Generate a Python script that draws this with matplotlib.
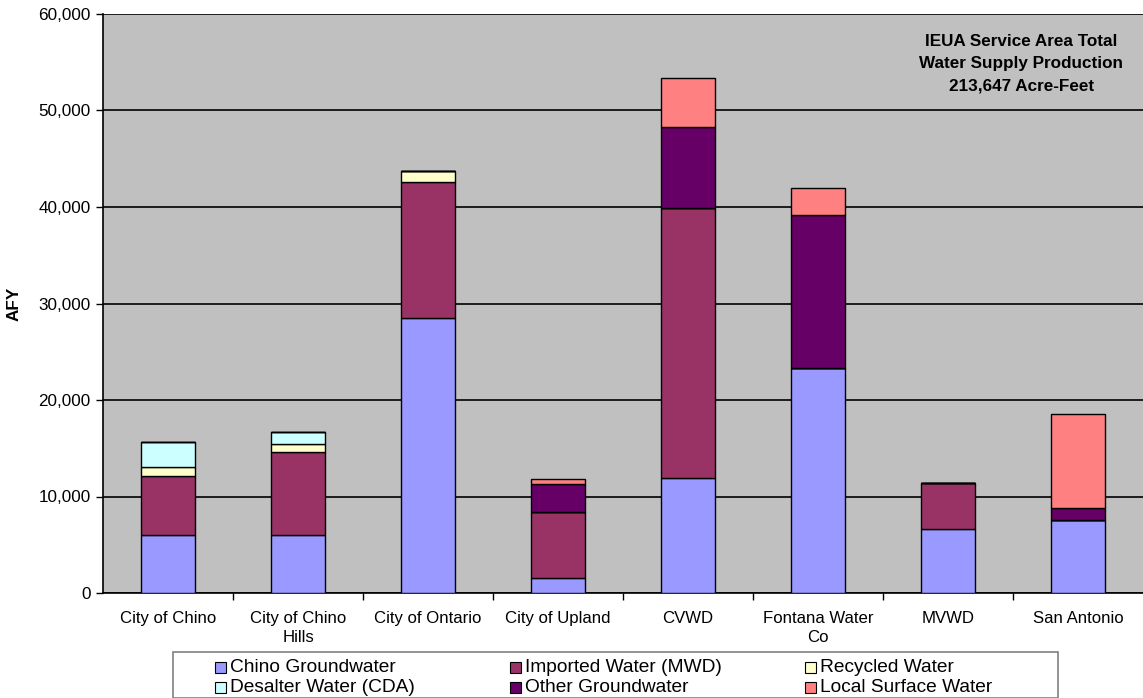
import matplotlib
matplotlib.use("Agg")
import matplotlib.pyplot as plt
from matplotlib.patches import Rectangle
import numpy as np

plt.rcParams['font.family'] = ['Liberation Sans', 'DejaVu Sans']

categories = ["City of Chino", "City of Chino\nHills", "City of Ontario", "City of Upland",
              "CVWD", "Fontana Water\nCo", "MVWD", "San Antonio"]
chino_gw = [6000, 6000, 28530, 1590, 11920, 23350, 6630, 7560]
imported = [6100, 8580, 14030, 6840, 28010, 0, 4740, 0]
recycled = [970, 830, 1200, 0, 0, 0, 0, 0]
desalter = [2590, 1240, 0, 0, 0, 0, 0, 0]
other_gw = [0, 0, 0, 2870, 8330, 15820, 0, 1220]
local_sw = [0, 0, 0, 510, 5140, 2770, 0, 9740]

series_names = ["Chino Groundwater", "Imported Water (MWD)", "Recycled Water",
                "Desalter Water (CDA)", "Other Groundwater", "Local Surface Water"]
series_values = [chino_gw, imported, recycled, desalter, other_gw, local_sw]
series_colors = ["#9999FF", "#993366", "#FFFFCC", "#CCFFFF", "#660066", "#FF8080"]

W, H = 1143, 698
fig = plt.figure(figsize=(W / 100, H / 100), dpi=100)
ax = fig.add_axes([103 / W, 1 - 593 / H, 1 - 103 / W, (593 - 14) / H])
ax.set_facecolor("#C0C0C0")

x = np.arange(len(categories))
bottom = np.zeros(len(categories))
for name, vals, col in zip(series_names, series_values, series_colors):
    vals = np.array(vals, dtype=float)
    ax.bar(x, vals, 0.41, bottom=bottom, color=col, edgecolor="black",
           linewidth=1.0, label=name, zorder=3)
    bottom += vals

ax.set_xlim(-0.5, len(categories) - 0.5)
ax.set_ylim(0, 60000)
ax.set_yticks(np.arange(0, 60001, 10000))
ax.set_yticklabels([f"{v:,}" for v in range(0, 60001, 10000)], fontsize=12.3)
ax.yaxis.grid(True, color="black", linewidth=1.2, zorder=0)
ax.set_axisbelow(True)

ax.set_xticks(x)
ax.set_xticklabels(categories, fontsize=12.1, linespacing=1.35)
ax.tick_params(axis="x", length=0, pad=13)
ax.set_xticks(np.arange(0.5, len(categories) - 0.5, 1), minor=True)
ax.tick_params(axis="x", which="minor", length=5, width=1, direction="out")
ax.tick_params(axis="y", length=5, width=1, direction="out", pad=4)

for s in ["top", "right"]:
    ax.spines[s].set_visible(False)
ax.spines["left"].set_linewidth(1.2)
ax.spines["bottom"].set_linewidth(1.2)

ax.set_ylabel("AFY", fontsize=12.3, fontweight="bold", labelpad=12)

ax.text(0.883, 0.965, "IEUA Service Area Total\nWater Supply Production\n213,647 Acre-Feet",
        transform=ax.transAxes, ha="center", va="top", fontsize=12.3,
        fontweight="bold", linespacing=1.6)

# Legend drawn in Excel-like layout (pixel-based placement)
def fx(px):
    return px / W

def fy(py):
    return 1 - py / H

fig.patches.append(Rectangle((fx(173), fy(698)), fx(1058) - fx(173), fy(652) - fy(698),
                             transform=fig.transFigure, facecolor="white",
                             edgecolor="#808080", linewidth=1.2, zorder=5))
leg_layout = [  # series index, column x (px), row y (px)
    (0, 215, 667), (1, 510, 667), (2, 805, 667),
    (3, 215, 687), (4, 510, 687), (5, 805, 687),
]
box = 11
for idx, cx, cy in leg_layout:
    fig.patches.append(Rectangle((fx(cx), fy(cy + box / 2)), box / W, box / H,
                                 transform=fig.transFigure,
                                 facecolor=series_colors[idx], edgecolor="black",
                                 linewidth=0.8, zorder=6))
    fig.text(fx(cx + box + 4), fy(cy), series_names[idx], fontsize=13.8,
             ha="left", va="center", zorder=7)

fig.savefig("out.png", dpi=100)
